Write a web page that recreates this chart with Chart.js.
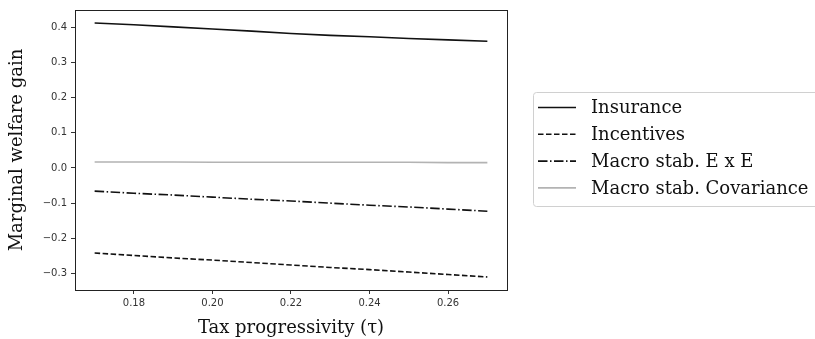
<!DOCTYPE html>
<html>
<head>
<meta charset="utf-8">
<script src="https://cdn.jsdelivr.net/npm/chart.js@4"></script>
<style>
  html, body { margin: 0; padding: 0; background: #fff; }
  #wrap { width: 815px; height: 339px; }
</style>
</head>
<body>
<div id="wrap"><canvas id="chart" width="815" height="339"></canvas></div>
<script>
const tau = [0.17, 0.18, 0.19, 0.20, 0.21, 0.22, 0.23, 0.24, 0.25, 0.26, 0.27];
const insurance = [0.412, 0.407, 0.401, 0.395, 0.389, 0.382, 0.377, 0.373, 0.368, 0.364, 0.360];
const incentives = [-0.242, -0.249, -0.256, -0.262, -0.269, -0.276, -0.283, -0.289, -0.296, -0.303, -0.310];
const macroExE = [-0.066, -0.072, -0.077, -0.083, -0.089, -0.094, -0.100, -0.106, -0.111, -0.117, -0.123];
const macroCov = [0.017, 0.017, 0.017, 0.016, 0.016, 0.016, 0.016, 0.016, 0.016, 0.015, 0.015];
const xTicks = [0.18, 0.20, 0.22, 0.24, 0.26];
const yTicks = [-0.3, -0.2, -0.1, 0.0, 0.1, 0.2, 0.3, 0.4];

const serif = "'DejaVu Serif', serif";
const sans = "'DejaVu Sans', sans-serif";

const pts = (ys) => tau.map((x, i) => ({ x: x, y: ys[i] }));

const line = (label, ys, color, dash) => ({
    label: label,
    data: pts(ys),
    borderColor: color,
    borderWidth: 1.6,
    borderDash: dash,
    pointRadius: 0,
    fill: false,
    tension: 0,
});

// frame round the plot area
const frame = {
    id: 'frame',
    afterDraw(chart) {
        const a = chart.chartArea;
        const c = chart.ctx;
        c.save();
        c.strokeStyle = '#222';
        c.lineWidth = 1;
        c.strokeRect(Math.round(a.left) + 0.5, Math.round(a.top) + 0.5,
            Math.round(a.right - a.left), Math.round(a.bottom - a.top));
        c.restore();
    }
};

// matplotlib style legend outside, right of the axes
const sideLegend = {
    id: 'sideLegend',
    afterDraw(chart) {
        const c = chart.ctx;
        const x0 = 533.5, y0 = 92.5, w = 300, h = 114, r = 3;
        c.save();
        c.beginPath();
        c.moveTo(x0 + r, y0);
        c.lineTo(x0 + w - r, y0);
        c.arcTo(x0 + w, y0, x0 + w, y0 + r, r);
        c.lineTo(x0 + w, y0 + h - r);
        c.arcTo(x0 + w, y0 + h, x0 + w - r, y0 + h, r);
        c.lineTo(x0 + r, y0 + h);
        c.arcTo(x0, y0 + h, x0, y0 + h - r, r);
        c.lineTo(x0, y0 + r);
        c.arcTo(x0, y0, x0 + r, y0, r);
        c.closePath();
        c.fillStyle = 'rgba(255,255,255,0.9)';
        c.fill();
        c.strokeStyle = '#d0d0d0';
        c.lineWidth = 1;
        c.stroke();

        c.font = '18px ' + serif;
        c.textBaseline = 'middle';
        chart.data.datasets.forEach((ds, i) => {
            const y = 107.5 + i * 26.8;
            c.beginPath();
            c.setLineDash(ds.borderDash || []);
            c.strokeStyle = ds.borderColor;
            c.lineWidth = ds.borderWidth;
            c.moveTo(538, y);
            c.lineTo(576, y);
            c.stroke();
            c.setLineDash([]);
            c.fillStyle = '#111';
            c.fillText(ds.label, 591, y + 1);
        });
        c.restore();
    }
};

new Chart(document.getElementById('chart').getContext('2d'), {
    type: 'line',
    data: {
        datasets: [
            line('Insurance', insurance, '#111', []),
            line('Incentives', incentives, '#111', [5.5, 2.5]),
            line('Macro stab. E x E', macroExE, '#111', [9.5, 2.5, 1.5, 2.5]),
            line('Macro stab. Covariance', macroCov, '#b3b3b3', []),
        ]
    },
    options: {
        responsive: false,
        animation: false,
        layout: { padding: { top: 8, right: 308, left: 0, bottom: 0 } },
        plugins: {
            legend: { display: false },
            tooltip: { enabled: false },
        },
        scales: {
            x: {
                type: 'linear',
                min: 0.165,
                max: 0.275,
                afterBuildTicks: (s) => { s.ticks = xTicks.map(v => ({ value: v })); },
                afterFit: (s) => { s.height = 49; },
                grid: { drawOnChartArea: false, tickLength: 4, tickColor: '#333' },
                border: { display: false },
                ticks: {
                    color: '#333',
                    font: { family: sans, size: 10 },
                    padding: 3,
                    maxRotation: 0,
                    callback: (v) => Number(v).toFixed(2),
                },
                title: {
                    display: true,
                    text: 'Tax progressivity (τ)',
                    color: '#111',
                    font: { family: serif, size: 18 },
                    padding: { top: 0, bottom: 0 },
                },
            },
            y: {
                min: -0.347,
                max: 0.449,
                afterBuildTicks: (s) => { s.ticks = yTicks.map(v => ({ value: v })); },
                afterFit: (s) => { s.width = 75; },
                grid: { drawOnChartArea: false, tickLength: 4, tickColor: '#333' },
                border: { display: false },
                ticks: {
                    color: '#333',
                    font: { family: sans, size: 10 },
                    padding: 4,
                    callback: (v) => Number(v).toFixed(1).replace('-', '\u2212'),
                },
                title: {
                    display: true,
                    text: 'Marginal welfare gain',
                    color: '#111',
                    font: { family: serif, size: 18 },
                    padding: { top: 7, bottom: 0 },
                },
            },
        },
    },
    plugins: [frame, sideLegend],
});
</script>
</body>
</html>
